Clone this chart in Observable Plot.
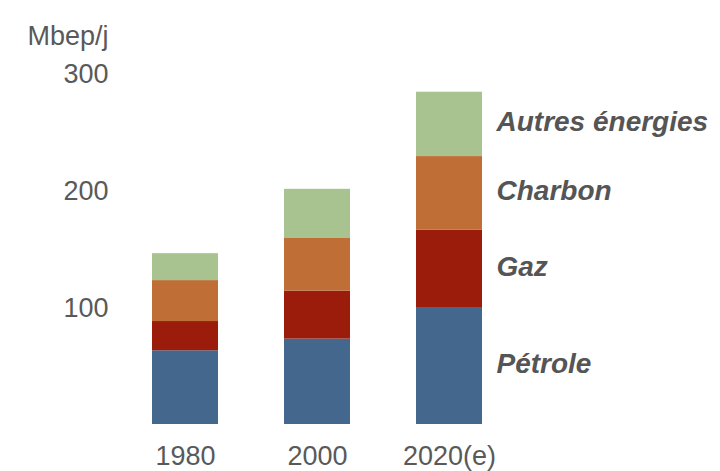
<!DOCTYPE html>
<html>
<head>
<meta charset="utf-8">
<script src="https://cdn.jsdelivr.net/npm/d3@7"></script>
<script src="https://cdn.jsdelivr.net/npm/@observablehq/plot@0.6"></script>
<style>
  html, body { margin: 0; padding: 0; background: #fff; }
  #chart svg { display: block; }
</style>
</head>
<body>
<div id="chart"></div>
<script>
// Data (Mbep/j)
const years = ["1980", "2000", "2020(e)"];
const sources = ["Pétrole", "Gaz", "Charbon", "Autres énergies"];
const petrole = [63, 73, 100];
const gaz = [25, 41, 66];
const charbon = [35, 45, 63];
const autres = [23, 42, 55];
const colors = ["#44678e", "#9b1c0a", "#bf6e36", "#a8c290"];
const yTicks = [100, 200, 300];
const unitLabel = "Mbep/j";

const series = [petrole, gaz, charbon, autres];
const data = [];
years.forEach((yr, i) => {
  sources.forEach((s, j) => data.push({year: yr, source: s, value: series[j][i]}));
});

// label positions: midpoints of the last bar's segments
const lastIdx = years.length - 1;
let cum = 0;
const labels = sources.map((s, j) => {
  const v = series[j][lastIdx];
  const mid = cum + v / 2;
  cum += v;
  return {year: years[lastIdx], source: s, mid};
});

const font = "'Liberation Sans', Arial, sans-serif";

const chart = Plot.plot({
  width: 720,
  height: 471,
  marginLeft: 85,
  marginRight: 171,
  marginTop: 73,
  marginBottom: 47,
  style: {fontFamily: font, fontSize: "27px", color: "#595959", background: "#fff"},
  x: {domain: years, padding: 0.5, label: null},
  y: {domain: [0, 300], label: null},
  color: {domain: sources, range: colors},
  marks: [
    Plot.barY(data, {x: "year", y: "value", fill: "source", order: sources}),
    Plot.axisX({tickSize: 0, tickPadding: 21, fontSize: 27, fill: "#595959", label: null}),
    Plot.axisY({ticks: yTicks, tickSize: 0, tickPadding: 0, dx: 23, dy: 1, fontSize: 27, fill: "#595959", label: null}),
    Plot.text([unitLabel], {frameAnchor: "top-left", text: d => d, textAnchor: "end", dx: 23, dy: -48, fontSize: 27, fill: "#595959"}),
    Plot.text(labels, {x: "year", y: "mid", text: "source", textAnchor: "start", dx: 47, dy: -2, fontSize: 28, fontWeight: "bold", fontStyle: "italic", fill: "#555555"})
  ]
});
document.getElementById("chart").appendChild(chart);
</script>
</body>
</html>
